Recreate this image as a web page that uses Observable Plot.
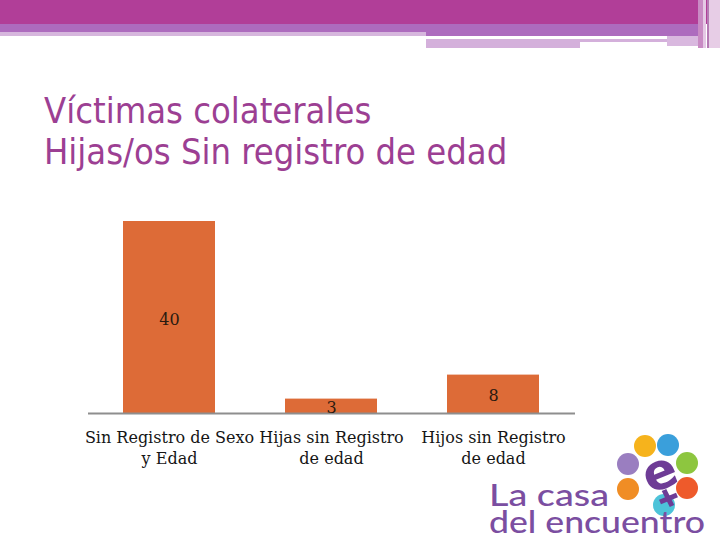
<!DOCTYPE html>
<html><head><meta charset="utf-8">
<script src="https://cdn.jsdelivr.net/npm/d3@7"></script>
<script src="https://cdn.jsdelivr.net/npm/@observablehq/plot@0.6"></script>
<style>
body{margin:0;background:#fff;}
#page{position:relative;width:720px;height:540px;overflow:hidden;background:#fff;}
.b{position:absolute;}
#chart{position:absolute;left:0;top:200px;}
#deco{position:absolute;left:0;top:0;}
</style></head><body><div id="page">
<div class="b" style="left:0;top:0;width:720px;height:24px;background:#B13E98"></div>
<div class="b" style="left:0;top:24px;width:426px;height:8px;background:#AD6BBE"></div>
<div class="b" style="left:0;top:32px;width:426px;height:4px;background:#D6B6DD"></div>
<div class="b" style="left:426px;top:24px;width:274px;height:12px;background:#AD6BBE"></div>
<div class="b" style="left:426px;top:39px;width:241px;height:3px;background:#D4B0DB"></div>
<div class="b" style="left:426px;top:42px;width:154px;height:6px;background:#D4B0DB"></div>
<div class="b" style="left:667px;top:36px;width:33px;height:10px;background:#D9B8DF"></div>
<div class="b" style="left:698px;top:0;width:5px;height:48px;background:#C98BC4"></div>
<div class="b" style="left:703px;top:0;width:3px;height:48px;background:#E5C9E5"></div>
<div class="b" style="left:707px;top:0;width:2px;height:48px;background:#B57AB4"></div>
<div class="b" style="left:709px;top:0;width:11px;height:48px;background:#E7CDE6"></div>
<div id="chart"></div>
<svg id="deco" width="720" height="540">
  <g font-family="DejaVu Sans Condensed" font-size="36" fill="#9C3F93">
    <text x="44" y="123">Víctimas colaterales</text>
    <text x="44" y="164">Hijas/os Sin registro de edad</text>
  </g>
  <g>
    <circle cx="645" cy="446" r="11" fill="#F6B31C"/>
    <circle cx="668" cy="445" r="11" fill="#3A9FDB"/>
    <circle cx="687" cy="463" r="11" fill="#8DC63F"/>
    <circle cx="687" cy="488" r="11" fill="#EE5A2B"/>
    <circle cx="664" cy="505" r="11" fill="#4DC3D9"/>
    <circle cx="628" cy="489" r="11" fill="#F08D25"/>
    <circle cx="628" cy="464" r="11" fill="#9A7EC0"/>
    <text x="660" y="489" font-family="DejaVu Sans" font-weight="bold" font-size="50" fill="#6E3C96" text-anchor="middle" transform="rotate(-22 660 474)">e</text>
    <line x1="664" y1="490" x2="672" y2="506" stroke="#6E3C96" stroke-width="5"/>
    <line x1="660" y1="502" x2="677" y2="495" stroke="#6E3C96" stroke-width="5"/>
    <text x="489" y="506" font-family="Lato" font-weight="500" font-size="30" fill="#7B4EA1" textLength="120" lengthAdjust="spacingAndGlyphs">La casa</text>
    <text x="489" y="533" font-family="Lato" font-weight="500" font-size="30" fill="#7B4EA1" textLength="216" lengthAdjust="spacingAndGlyphs">del encuentro</text>
  </g>
</svg>
</div>
<script>
const categories = ["Sin Registro de Sexo\ny Edad", "Hijas sin Registro\nde edad", "Hijos sin Registro\nde edad"];
const values = [40, 3, 8];
const data = categories.map((c, i) => ({category: c, value: values[i]}));
const plot = Plot.plot({
  width: 720, height: 280,
  marginLeft: 88, marginRight: 145, marginTop: 21, marginBottom: 67,
  x: {domain: categories, paddingInner: 0.43, paddingOuter: 0.215, label: null},
  y: {domain: [0, 40], axis: null},
  style: {fontFamily: "DejaVu Serif", fontSize: "16px", color: "#151515", background: "transparent", overflow: "visible"},
  marks: [
    Plot.barY(data, {x: "category", y: "value", fill: "#DD6B37"}),
    Plot.ruleY([0], {stroke: "#8E8E8E", strokeWidth: 2}),
    Plot.text(data, {x: "category", y: d => d.value / 2, dy: 2, text: d => String(d.value), fill: "#2A1A10", fontSize: 16}),
    Plot.axisX({tickSize: 0, tickPadding: 15, lineHeight: 1.3, fontSize: 16, fill: "#151515", label: null})
  ]
});
document.getElementById("chart").appendChild(plot);
</script>
</body></html>
